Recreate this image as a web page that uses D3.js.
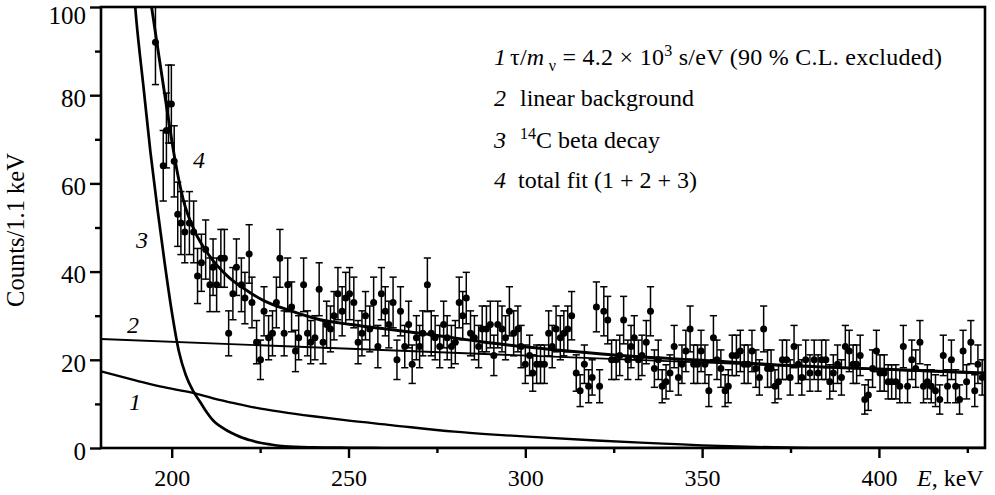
<!DOCTYPE html>
<html lang="en">
<head>
<meta charset="UTF-8">
<title>Counts spectrum with fit components</title>
<script src="https://d3js.org/d3.v7.min.js"></script>
<style>
  html, body { margin: 0; padding: 0; background: #fff; }
  svg text { font-family: "Liberation Serif", "Times New Roman", serif; fill: #000; }
  .curve { fill: none; stroke: #000; stroke-linejoin: round; }
  .err line { stroke: #000; stroke-width: 1.5; }
</style>
</head>
<body>
<svg id="chart" width="995" height="495"></svg>
<script>
// measured spectrum: bin energy (keV) and counts per 1.1 keV
const energy = [
  195.4,197.6,198.5,199.1,199.9,200.7,201.7,202.6,203.7,205.0,
  206.2,207.3,208.4,209.6,210.8,211.7,212.7,213.9,214.9,216.1,
  217.3,218.3,219.7,220.7,221.9,222.7,224.0,225.1,226.1,227.4,
  228.5,229.6,230.6,231.8,232.8,233.9,235.0,235.9,237.3,238.4,
  239.3,240.5,241.7,242.8,243.8,244.9,245.9,247.0,248.2,249.2,
  250.3,251.5,252.7,253.8,254.8,256.0,257.1,258.3,259.3,260.4,
  261.4,262.6,263.7,264.7,265.9,267.0,268.0,269.2,270.1,271.0,
  272.3,273.4,274.5,275.8,276.9,277.9,279.1,280.2,281.3,282.3,
  283.3,284.5,285.6,286.8,287.8,289.0,290.1,291.1,292.2,293.4,
  294.4,295.5,296.7,297.9,298.8,300.0,301.2,302.1,303.2,304.3,
  305.4,306.6,307.6,308.7,309.9,310.9,312.0,313.1,314.4,315.5,
  316.7,317.9,318.9,320.1,321.0,322.2,323.3,324.4,325.7,326.7,
  327.8,329.0,329.9,330.8,332.0,333.0,334.2,335.4,336.5,337.6,
  338.7,339.8,340.9,342.1,343.3,344.3,345.4,346.6,347.6,348.7,
  349.7,350.8,351.9,353.2,354.2,355.3,356.5,357.4,358.5,359.7,
  360.8,361.9,363.0,364.1,365.2,366.2,367.4,368.5,369.5,370.6,
  371.6,372.7,373.9,374.9,376.0,377.2,378.2,379.3,380.5,381.7,
  382.8,383.8,385.0,386.1,387.1,388.3,389.4,390.5,391.6,392.7,
  393.7,394.7,396.0,397.0,398.2,399.3,400.3,401.5,402.6,403.6,
  404.8,405.9,406.9,408.1,409.3,410.4,411.6,412.6,413.7,414.8,
  416.0,417.2,418.2,419.4,420.5,421.7,422.8,423.8,424.8,426.0,
  427.1,428.0,429.2
];
const counts = [
  92,64,72,78,78,65,53,51,49,51,
  49,39,42,45,37,41,37,43,43,26,
  35,41,37,34,44,33,24,20,31,25,
  26,33,43,26,37,32,22,25,37,26,
  24,25,36,24,28,27,30,35,31,34,
  35,33,24,26,30,27,33,23,35,31,
  28,33,20,31,23,28,19,25,23,26,
  37,26,25,23,28,25,23,24,33,30,
  34,26,25,23,27,27,28,21,28,27,
  25,31,26,27,23,19,21,17,19,19,
  19,26,23,27,25,26,27,30,17,13,
  19,14,16,32,14,31,29,20,20,21,
  29,20,23,25,20,21,24,31,18,20,
  14,15,17,23,16,19,22,27,19,19,
  22,19,13,25,20,18,13,14,21,21,
  22,19,19,22,18,16,27,18,18,14,
  15,20,20,16,23,19,16,20,17,20,
  17,20,20,15,17,19,16,23,22,19,
  19,21,11,12,18,22,17,17,15,15,
  15,14,23,14,20,18,24,14,15,14,
  13,11,21,14,20,14,11,22,15,24,
  13,19,16
];

// fit components
const curve1E = [180, 190, 197, 206, 212, 218, 224, 231, 240, 249, 262, 280, 290, 302, 320, 339, 350, 365, 380, 395, 430];
const curve1V = [17.4, 15.3, 13.9, 12.5, 11.2, 10.1, 9.1, 8.2, 7.2, 6.3, 5.2, 3.7, 3.1, 2.5, 1.7, 1.0, 0.6, 0.25, 0.05, 0, 0];
const curve2E = [180, 430];
const curve2V = [24.7, 16.9];
const curve3E = [187, 188, 190, 192, 194, 196, 198, 200, 202, 204, 206, 208, 210, 212, 214, 216, 218, 220, 222, 225, 228, 232, 240, 250, 260, 430];
const curve3V = [128, 118, 97, 82, 67, 54, 42, 31, 22, 16.5, 13, 10.5, 8, 6, 4.8, 3.8, 3, 2.3, 1.8, 1.2, 0.8, 0.4, 0.15, 0.05, 0, 0];
const curve4E = [192.5, 194.3, 195.7, 199, 201, 203.2, 206.6, 210.3, 216, 220.7, 226.3, 232.9, 241.4, 250.8, 260.2, 272.5, 290.4, 312, 330, 350, 375, 400, 430];
const curve4V = [108, 100, 92.5, 75, 65, 56.5, 49, 44, 38.8, 36, 33.3, 31.3, 29.2, 28, 27, 25.8, 23.8, 22, 20.8, 19.9, 18.7, 17.9, 17.0];

const xMajor = [200, 250, 300, 350, 400];
const xMinor = [225, 275, 325, 375, 425];
const yMajor = [0, 20, 40, 60, 80, 100];
const yMinor = [10, 30, 50, 70, 90];

const svg = d3.select("#chart");
const pLeft = 101, pRight = 985, pTop = 7, pBottom = 448;
const x = d3.scaleLinear().domain([180, 430]).range([pLeft, pRight]);
const y = d3.scaleLinear().domain([0, 100]).range([pBottom, pTop]);

svg.append("defs").append("clipPath").attr("id", "plot")
  .append("rect").attr("x", pLeft).attr("y", pTop)
  .attr("width", pRight - pLeft).attr("height", pBottom - pTop);

const plot = svg.append("g").attr("clip-path", "url(#plot)");

// error bars (Poisson, sqrt N) and points
const pts = energy.map((e, i) => ({e: e, c: counts[i]}));
const err = plot.append("g").attr("class", "err")
  .selectAll("g").data(pts).join("g");
err.append("line")
  .attr("x1", d => x(d.e)).attr("x2", d => x(d.e))
  .attr("y1", d => y(d.c - Math.sqrt(d.c))).attr("y2", d => y(d.c + Math.sqrt(d.c)));
err.append("line")
  .attr("x1", d => x(d.e) - 3.6).attr("x2", d => x(d.e) + 3.6)
  .attr("y1", d => y(d.c - Math.sqrt(d.c))).attr("y2", d => y(d.c - Math.sqrt(d.c)));
err.append("line")
  .attr("x1", d => x(d.e) - 3.6).attr("x2", d => x(d.e) + 3.6)
  .attr("y1", d => y(d.c + Math.sqrt(d.c))).attr("y2", d => y(d.c + Math.sqrt(d.c)));
plot.append("g").selectAll("circle").data(pts).join("circle")
  .attr("cx", d => x(d.e)).attr("cy", d => y(d.c)).attr("r", 3.5).attr("fill", "#000");

// fit curves
const line = d3.line().x(d => x(d[0])).y(d => y(d[1])).curve(d3.curveMonotoneX);
const curves = [
  [curve1E, curve1V, 2.3],
  [curve2E, curve2V, 1.9],
  [curve3E, curve3V, 2.7],
  [curve4E, curve4V, 2.9]
];
curves.forEach(c => {
  plot.append("path").attr("class", "curve")
    .attr("stroke-width", c[2])
    .attr("d", line(c[0].map((e, i) => [e, c[1][i]])));
});

// axes
function styleAxis(g) {
  g.select(".domain").remove();
  g.attr("font-size", 24).attr("font-family", null);
  g.selectAll(".tick line").attr("stroke", "#000").attr("stroke-width", 2.4);
}
svg.append("g").attr("transform", `translate(0,${pBottom})`)
  .call(d3.axisBottom(x).tickValues(xMajor).tickSize(10).tickPadding(11).tickFormat(d3.format("d")))
  .call(styleAxis);
svg.append("g").attr("transform", `translate(0,${pBottom})`)
  .call(d3.axisBottom(x).tickValues(xMinor).tickSize(5).tickFormat(""))
  .call(styleAxis);
const ya = svg.append("g").attr("transform", `translate(${pLeft},0)`)
  .call(d3.axisLeft(y).tickValues(yMajor).tickSize(11).tickPadding(4).tickFormat(d3.format("d")))
  .call(styleAxis);
ya.attr("font-size", 25);
ya.selectAll("text").attr("dy", d => d === 100 ? 16 : "0.45em");
svg.append("g").attr("transform", `translate(${pLeft},0)`)
  .call(d3.axisLeft(y).tickValues(yMinor).tickSize(6).tickFormat(""))
  .call(styleAxis);

// frame
svg.append("rect").attr("x", pLeft).attr("y", pTop)
  .attr("width", pRight - pLeft).attr("height", pBottom - pTop)
  .attr("fill", "none").attr("stroke", "#000").attr("stroke-width", 2.6);

// axis titles
svg.append("text").attr("transform", "translate(24,230) rotate(-90)")
  .attr("text-anchor", "middle").attr("font-size", 24.5).text("Counts/1.1 keV");
const xt = svg.append("text").attr("x", 917).attr("y", 486).attr("font-size", 24);
xt.append("tspan").attr("font-style", "italic").text("E");
xt.append("tspan").text(", keV");

// curve labels
const curveLabels = [["4", 199, 168], ["3", 142, 248], ["2", 133, 333], ["1", 135, 410]];
svg.selectAll(".clab").data(curveLabels).join("text")
  .attr("class", "clab").attr("x", d => d[1]).attr("y", d => d[2])
  .attr("text-anchor", "middle").attr("font-size", 24).attr("font-style", "italic")
  .text(d => d[0]);

// legend
const legNums = ["1", "2", "3", "4"];
const legY = [65, 106, 148, 188];
svg.selectAll(".lnum").data(legNums).join("text")
  .attr("class", "lnum").attr("x", 494).attr("y", (d, i) => legY[i])
  .attr("font-size", 24).attr("font-style", "italic").text(d => d);

const l1 = svg.append("text").attr("x", 510).attr("y", legY[0]).attr("font-size", 24)
  .attr("textLength", 432).attr("lengthAdjust", "spacing");
l1.append("tspan").text("τ/");
l1.append("tspan").attr("font-style", "italic").text("m");
l1.append("tspan").attr("font-size", 16).attr("dy", 6).text(" ν");
l1.append("tspan").attr("dy", -6).text(" = 4.2 × 10");
l1.append("tspan").attr("font-size", 16).attr("dy", -9).text("3");
l1.append("tspan").attr("dy", 9).text(" s/eV (90 % C.L. excluded)");

svg.append("text").attr("x", 520).attr("y", legY[1]).attr("font-size", 24).text("linear background");
const l3 = svg.append("text").attr("x", 520).attr("y", legY[2]).attr("font-size", 24);
l3.append("tspan").attr("font-size", 16).attr("dy", -9).text("14");
l3.append("tspan").attr("dy", 9).text("C beta decay");
svg.append("text").attr("x", 518).attr("y", legY[3]).attr("font-size", 24).text("total fit (1 + 2 + 3)");
</script>
</body>
</html>
